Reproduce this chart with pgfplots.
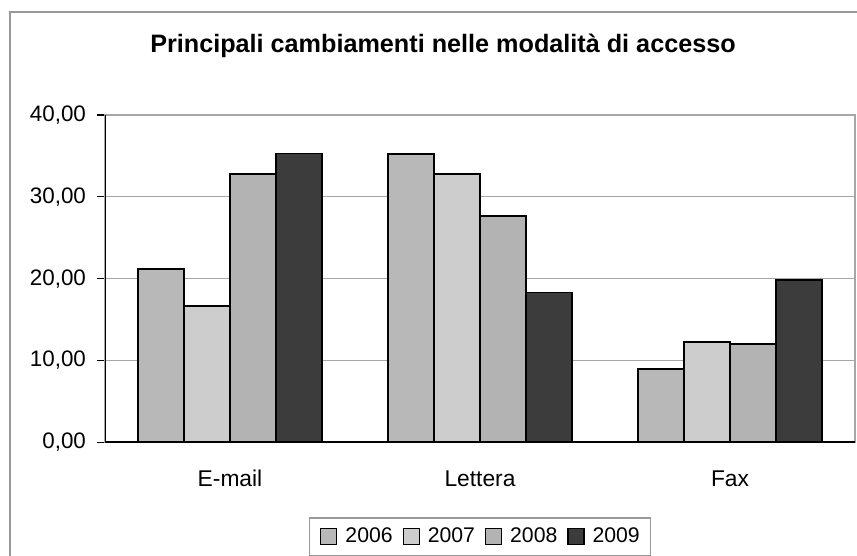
\documentclass[border=0pt]{standalone}
\usepackage{fontspec}
\setmainfont{Liberation Sans}
\usepackage{pgfplots}
\pgfplotsset{compat=1.18}

\definecolor{cA}{HTML}{B8B8B8}
\definecolor{cB}{HTML}{CDCDCD}
\definecolor{cC}{HTML}{B3B3B3}
\definecolor{cD}{HTML}{3C3C3C}

\begin{document}
\begin{tikzpicture}
\useasboundingbox (0,0) rectangle (428.5pt,278pt);
% outer chart frame (only left and top visible)
\draw[gray!80, line width=0.8pt] (5pt,0) -- (5pt,272pt) -- (428.5pt,272pt);
\node[font=\fontsize{12.6}{14}\selectfont\bfseries] at (221.5pt,255pt) {Principali cambiamenti nelle modalità di accesso};
\begin{axis}[
    at={(52.5pt,56.85pt)}, anchor=south west,
    scale only axis, width=375pt, height=163.65pt,
    ybar=0pt, bar width=23pt,
    xmin=-0.5, xmax=2.5, ymin=0, ymax=40,
    xtick={0,1,2}, xticklabels={E-mail,Lettera,Fax},
    major x tick style={draw=none},
    extra x ticks={-0.5,0.5,1.5,2.5}, extra x tick labels={},
    extra x tick style={major tick length=5pt, tick align=outside, tick style={black, line width=0.6pt}, grid=none},
    xticklabel style={yshift=-6.5pt, font=\fontsize{11.4}{13}\selectfont},
    ytick={0,10,20,30,40},
    ytick style={black, line width=0.6pt},
    major tick length=4pt, tick align=outside, tick pos=left,
    ymajorgrids, grid style={gray!70, line width=0.6pt},
    axis line style={gray!70, line width=0.7pt},
    /pgf/number format/.cd, fixed, fixed zerofill, precision=2, use comma, assume math mode=true,
    /pgfplots/.cd,
    yticklabel style={xshift=-2pt, font=\fontsize{11.2}{13}\selectfont},
    legend columns=4,
    legend style={at={(0.5,-0.289)}, anchor=center, draw=gray!80, line width=0.6pt,
        font=\fontsize{10.6}{12}\selectfont,
        inner xsep=5.3pt, inner ysep=5pt,
        nodes={inner sep=0pt, font=\fontsize{10.6}{12}\selectfont},
        /tikz/every odd column/.style={column sep=4pt},
        /tikz/every even column/.style={column sep=5pt}},
    legend image code/.code={\draw[#1, line width=0.6pt] (0pt,-4pt) rectangle (8pt,4pt);},
    every axis plot/.append style={draw=black, line width=0.9pt},
]
\addplot[fill=cA] coordinates {(0,21.2) (1,35.2) (2,9.0)};
\addplot[fill=cB] coordinates {(0,16.7) (1,32.8) (2,12.3)};
\addplot[fill=cC] coordinates {(0,32.8) (1,27.7) (2,12.0)};
\addplot[fill=cD] coordinates {(0,35.3) (1,18.3) (2,19.8)};
\legend{2006,2007,2008,2009}
\draw[black, line width=0.8pt] (rel axis cs:0,1) -- (rel axis cs:0,0) -- (rel axis cs:1,0);
\end{axis}
\end{tikzpicture}
\end{document}
